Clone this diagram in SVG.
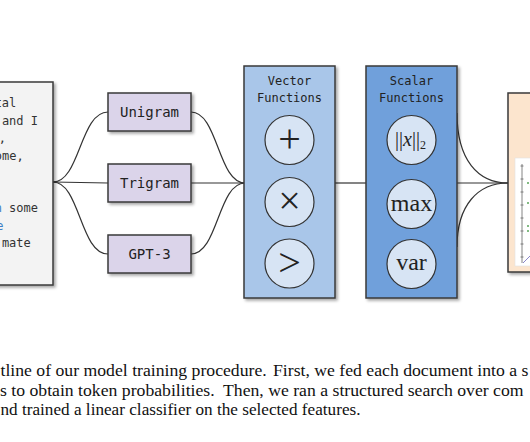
<svg xmlns="http://www.w3.org/2000/svg" width="530" height="442" viewBox="0 0 530 442">
<defs>
<filter id="sh" x="-20%" y="-20%" width="140%" height="140%">
<feDropShadow dx="2" dy="2" stdDeviation="1.5" flood-color="#000" flood-opacity="0.35"/>
</filter>
</defs>
<style>
.box{stroke:#3a3a3a;stroke-width:1.5;filter:url(#sh)}
.mono{font-family:"DejaVu Sans Mono","Liberation Mono",monospace;fill:#222}
.doc{font-size:12px;text-anchor:end;fill:#333}
.blue{fill:#3f7fc6}
.lbl{font-size:14px;text-anchor:middle}
.hdr{font-size:12px;text-anchor:middle}
.circ{fill:#d7e4f4;stroke:#333;stroke-width:1.2}
.sym{font-family:"Liberation Serif","DejaVu Serif",serif;font-size:40px;text-anchor:middle;fill:#222}
.math{font-family:"Liberation Serif","DejaVu Serif",serif;text-anchor:middle;fill:#222}
.con{fill:none;stroke:#333;stroke-width:1.2}
.cap{font-family:"Liberation Serif","Times New Roman",serif;font-size:17.7px;fill:#111}
</style>
<rect width="530" height="442" fill="#fff"/>

<g id="connectors">
<path class="con" d="M53,182 C80,182 80,112 108,112"/>
<path class="con" d="M53,182 L108,183"/>
<path class="con" d="M53,182 C80,182 80,254 108,254"/>
<path class="con" d="M191,112 C218,112 218,183 245,183"/>
<path class="con" d="M191,183 L245,183"/>
<path class="con" d="M191,254 C218,254 218,183 245,183"/>
<path class="con" d="M335,183 L366,183"/>
<path class="con" d="M457,113 C457,160 478,183 508,183"/>
<path class="con" d="M457,183 L508,183"/>
<path class="con" d="M457,247 C457,205 478,183 508,183"/>
</g>

<g id="document">
<rect class="box" x="-10" y="82" width="63" height="203" fill="#f3f3f3"/>
<text class="mono doc" x="16.3" y="107">tal</text>
<text class="mono doc" x="38" y="124.5">and I</text>
<text class="mono doc" x="6" y="142">,</text>
<text class="mono doc" x="23.6" y="159.5">ome,</text>
<text class="mono doc" x="38" y="212"><tspan class="blue">n</tspan> some</text>
<text class="mono doc blue" x="3.5" y="229.5">e</text>
<text class="mono doc" x="30.8" y="247">mate</text>
</g>

<g id="unigram">
<rect class="box" x="108" y="93" width="83" height="38" fill="#dbd4ea"/>
<text class="mono lbl" x="149.5" y="117">Unigram</text>
</g>
<g id="trigram">
<rect class="box" x="108" y="164" width="83" height="38" fill="#dbd4ea"/>
<text class="mono lbl" x="149.5" y="188">Trigram</text>
</g>
<g id="gpt3">
<rect class="box" x="108" y="235" width="83" height="38" fill="#dbd4ea"/>
<text class="mono lbl" x="149.5" y="259">GPT-3</text>
</g>

<g id="vector-functions">
<rect class="box" x="244" y="66" width="91" height="232" fill="#a9c6e9"/>
<text class="mono hdr" x="289.5" y="85">Vector</text>
<text class="mono hdr" x="289.5" y="102">Functions</text>
<circle class="circ" cx="289.5" cy="140" r="24.5"/>
<text class="sym" x="289.5" y="152">+</text>
<circle class="circ" cx="289.5" cy="202" r="24.5"/>
<text class="sym" x="289.5" y="214">×</text>
<circle class="circ" cx="289.5" cy="263.5" r="24.5"/>
<text class="sym" x="289.5" y="276">&gt;</text>
</g>

<g id="scalar-functions">
<rect class="box" x="366" y="66" width="91" height="232" fill="#70a0db"/>
<text class="mono hdr" x="411.5" y="85">Scalar</text>
<text class="mono hdr" x="411.5" y="102">Functions</text>
<circle class="circ" cx="411.5" cy="140" r="24.5"/>
<text class="math" x="410.5" y="146" font-size="20">||<tspan font-style="italic">x</tspan>||<tspan font-size="12" dy="3">2</tspan></text>
<circle class="circ" cx="411.5" cy="204" r="24.5"/>
<text class="math" x="411.5" y="211" font-size="24">max</text>
<circle class="circ" cx="411.5" cy="264" r="24.5"/>
<text class="math" x="411.5" y="270" font-size="24">var</text>
</g>

<g id="classifier">
<rect class="box" x="508" y="93" width="40" height="179" fill="#fce5ce"/>
<rect x="515" y="158" width="30" height="108" fill="#fff" stroke="#e2e2e2" stroke-width="0.6"/>
<g stroke="#666" stroke-width="0.8">
<line x1="522" y1="164" x2="522" y2="263"/>
<line x1="520.5" y1="166" x2="523.5" y2="166"/>
<line x1="520.5" y1="179" x2="523.5" y2="179"/>
<line x1="520.5" y1="192" x2="523.5" y2="192"/>
<line x1="520.5" y1="205" x2="523.5" y2="205"/>
<line x1="520.5" y1="218" x2="523.5" y2="218"/>
<line x1="520.5" y1="231" x2="523.5" y2="231"/>
<line x1="520.5" y1="244" x2="523.5" y2="244"/>
<line x1="520.5" y1="257" x2="523.5" y2="257"/>
</g>
<g fill="#5aa55a">
<circle cx="528" cy="183" r="1"/>
<circle cx="528" cy="203" r="1"/>
<circle cx="528" cy="226" r="1"/>
<circle cx="528" cy="231" r="1"/>
</g>
<line x1="523" y1="263" x2="531" y2="255" stroke="#8a86c8" stroke-width="1"/>
</g>

<g id="caption">
<text class="cap" y="376"><tspan x="0.5">tline of our model training procedure.</tspan><tspan x="273">First, we fed each document into a s</tspan></text>
<text class="cap" y="395.5"><tspan x="0">s to obtain token probabilities.</tspan><tspan x="223">Then, we ran a structured search over com</tspan></text>
<text class="cap" x="0.5" y="415" textLength="360" lengthAdjust="spacingAndGlyphs">nd trained a linear classifier on the selected features.</text>
</g>
</svg>
